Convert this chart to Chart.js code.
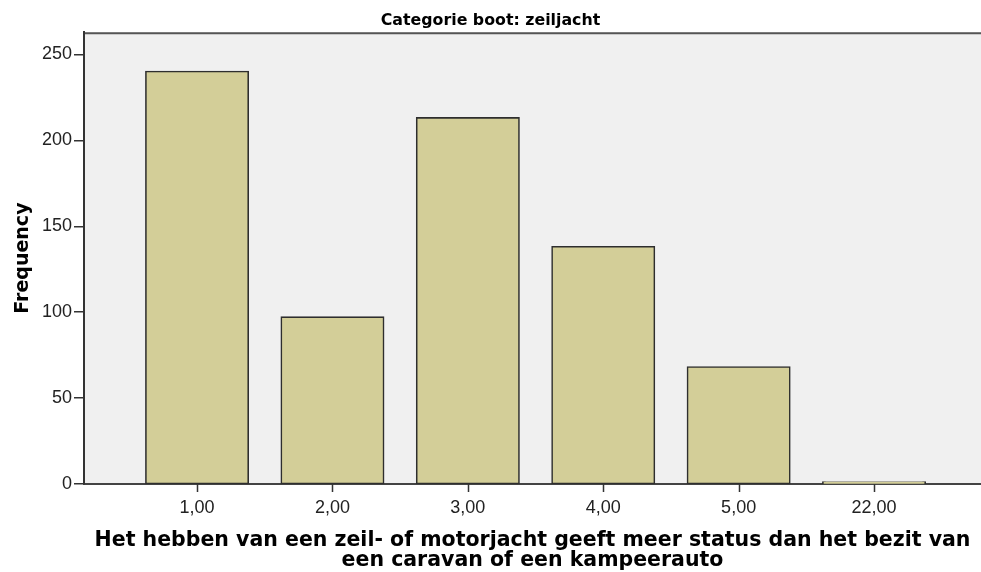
<!DOCTYPE html>
<html>
<head>
<meta charset="utf-8">
<script src="https://cdn.jsdelivr.net/npm/chart.js@4/dist/chart.umd.min.js"></script>
<style>
  html, body { margin: 0; padding: 0; background: #ffffff; overflow: hidden; }
  #wrap { width: 981px; height: 572px; }
</style>
</head>
<body>
<div id="wrap"><canvas id="freqChart" width="981" height="572"></canvas></div>
<script>
// answer codes on the x axis and their frequencies
const categoryLabels = ["1,00", "2,00", "3,00", "4,00", "5,00", "22,00"];
const categoryPositions = [0, 1, 2, 3, 4, 5];
const frequencies = [240, 97, 213, 138, 68, 1];
const yTickValues = [0, 50, 100, 150, 200, 250];

const chartTitle = "Categorie boot: zeiljacht";
const xTitle = [
  "Het hebben van een zeil- of motorjacht geeft meer status dan het bezit van",
  "een caravan of een kampeerauto",
];
const yTitle = "Frequency";

const ctx = document.getElementById("freqChart");

// grey plot background plus the dark top border line
const plotBackground = {
  id: "plotBackground",
  beforeDraw(chart) {
    const { ctx, chartArea } = chart;
    ctx.save();
    ctx.fillStyle = "#f0f0f0";
    ctx.fillRect(chartArea.left, chartArea.top, chartArea.right - chartArea.left, chartArea.bottom - chartArea.top);
    ctx.strokeStyle = "#555555";
    ctx.lineWidth = 2;
    ctx.beginPath();
    ctx.moveTo(chartArea.left, chartArea.top + 1);
    ctx.lineTo(chartArea.right, chartArea.top + 1);
    ctx.stroke();
    ctx.restore();
  },
};

// small tick marks under the x axis, one per category
const xTickMarks = {
  id: "xTickMarks",
  afterDraw(chart) {
    const { ctx } = chart;
    const xScale = chart.scales.x;
    ctx.save();
    ctx.strokeStyle = "#333333";
    ctx.lineWidth = 1.5;
    ctx.beginPath();
    xScale.ticks.forEach((t) => {
      const px = Math.round(xScale.getPixelForValue(t.value)) + 0.5;
      ctx.moveTo(px, xScale.top);
      ctx.lineTo(px, xScale.top + 8);
    });
    ctx.stroke();
    ctx.restore();
  },
};

const config = {
  type: "bar",
  data: {
    datasets: [
      {
        label: "Frequency",
        data: categoryPositions.map((x, i) => ({ x: x, y: frequencies[i] })),
        backgroundColor: "#d3ce98",
        borderColor: "#2e2e2e",
        borderWidth: 1.6,
        borderSkipped: false,
        inflateAmount: 1,
        categoryPercentage: 1,
        barPercentage: 0.753,
      },
    ],
  },
  options: {
    responsive: false,
    animation: false,
    layout: { padding: 0 },
    plugins: {
      legend: { display: false },
      tooltip: { enabled: false },
      title: {
        display: true,
        text: chartTitle,
        color: "#000000",
        font: { family: "DejaVu Sans", size: 15.8, weight: "bold", lineHeight: 1.15 },
        padding: { top: 12, bottom: 2 },
      },
    },
    scales: {
      x: {
        type: "linear",
        min: -0.835,
        max: 5.79,
        offset: false,
        afterBuildTicks: (scale) => {
          scale.ticks = categoryPositions.map((v) => ({ value: v }));
        },
        afterFit: (scale) => {
          scale.height = 88;
        },
        ticks: {
          autoSkip: false,
          maxRotation: 0,
          padding: 5,
          color: "#222222",
          font: { family: "Liberation Sans", size: 18 },
          callback: (value) => categoryLabels[categoryPositions.indexOf(value)],
        },
        grid: {
          offset: false,
          drawOnChartArea: false,
          drawTicks: true,
          tickLength: 8,
          color: "rgba(0,0,0,0)",
          tickColor: "rgba(0,0,0,0)",
        },
        border: { display: true, color: "#444444", width: 2 },
        title: {
          display: true,
          text: xTitle,
          color: "#000000",
          font: { family: "DejaVu Sans", size: 20.5, weight: "bold", lineHeight: 1.0 },
          padding: { top: 0, bottom: 1 },
        },
      },
      y: {
        min: 0,
        max: 263,
        afterBuildTicks: (scale) => {
          scale.ticks = yTickValues.map((v) => ({ value: v }));
        },
        afterFit: (scale) => {
          scale.width = 84;
        },
        ticks: {
          padding: 2,
          color: "#222222",
          font: { family: "Liberation Sans", size: 18 },
        },
        grid: {
          drawOnChartArea: false,
          drawTicks: true,
          tickLength: 10,
          color: "#333333",
          lineWidth: 1.5,
        },
        border: { display: true, color: "#333333", width: 2 },
        title: {
          display: true,
          text: yTitle,
          color: "#000000",
          font: { family: "DejaVu Sans", size: 19, weight: "bold", lineHeight: 1.2 },
          padding: { top: 12, bottom: 0 },
        },
      },
    },
  },
  plugins: [plotBackground, xTickMarks],
};

new Chart(ctx, config);
</script>
</body>
</html>
